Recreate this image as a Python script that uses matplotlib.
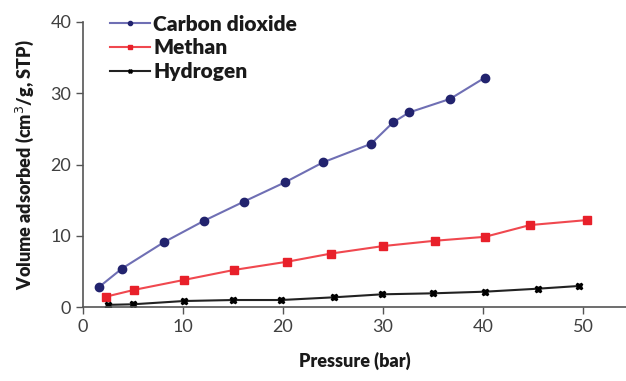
import matplotlib
matplotlib.use("Agg")
import matplotlib.pyplot as plt

# data
co2_p = [1.6, 3.9, 8.1, 12.1, 16.1, 20.2, 24.0, 28.8, 31.0, 32.6, 36.7, 40.2]
co2_v = [2.8, 5.4, 9.1, 12.1, 14.8, 17.5, 20.3, 22.9, 25.9, 27.3, 29.2, 32.2]

ch4_p = [2.3, 5.1, 10.1, 15.1, 20.4, 24.8, 30.0, 35.2, 40.2, 44.7, 50.4]
ch4_v = [1.45, 2.4, 3.8, 5.2, 6.35, 7.5, 8.55, 9.3, 9.85, 11.5, 12.2]

h2_p = [2.5, 5.0, 10.1, 15.0, 19.8, 25.1, 29.9, 35.0, 40.2, 45.5, 49.6]
h2_v = [0.3, 0.38, 0.84, 0.98, 0.98, 1.36, 1.78, 1.92, 2.15, 2.57, 2.95]

xticks = [0, 10, 20, 30, 40, 50]
yticks = [0, 10, 20, 30, 40]

plt.rcParams['font.family'] = ['Lato', 'DejaVu Sans']

fig = plt.figure(figsize=(6.26, 3.81), dpi=100)
ax = fig.add_axes([83 / 626, 1 - 307 / 381, 1 - 83 / 626, (307 - 22) / 381])

ax.plot(co2_p, co2_v, color='#6f6fb4', lw=1.5, marker='o', ms=6,
        mfc='#22236e', mec='#22236e', label='Carbon dioxide')
ax.plot(ch4_p, ch4_v, color='#f0484f', lw=1.5, marker='s', ms=6,
        mfc='#e8202a', mec='#e8202a', label='Methan')
ax.plot(h2_p, h2_v, color='#222222', lw=1.5, marker='X', ms=5,
        mfc='black', mec='black', label='Hydrogen')

ax.set_xlim(0, 54.3)
ax.set_ylim(0, 40)
ax.set_xticks(xticks)
ax.set_yticks(yticks)
ax.tick_params(labelsize=13, labelcolor='#404040', color='#555555', length=5, width=1)
ax.spines['top'].set_visible(False)
ax.spines['right'].set_visible(False)
for s in ['left', 'bottom']:
    ax.spines[s].set_color('#555555')
    ax.spines[s].set_linewidth(1.2)

ax.set_xlabel('Pressure (bar)', fontsize=13, fontweight='heavy', labelpad=12, color='#1a1a1a')
ax.set_ylabel('Volume adsorbed (cm$^3$/g, STP)', fontsize=13, fontweight='heavy',
              labelpad=10, color='#1a1a1a')

leg = ax.legend(loc='upper left', bbox_to_anchor=(0.035, 1.055), frameon=False,
                fontsize=15, markerscale=0.5, handlelength=1.9, handletextpad=0.15,
                labelspacing=0.22, borderaxespad=0)
for t in leg.get_texts():
    t.set_fontweight('heavy')
    t.set_color('#1a1a1a')

fig.savefig('out.png', dpi=100)
